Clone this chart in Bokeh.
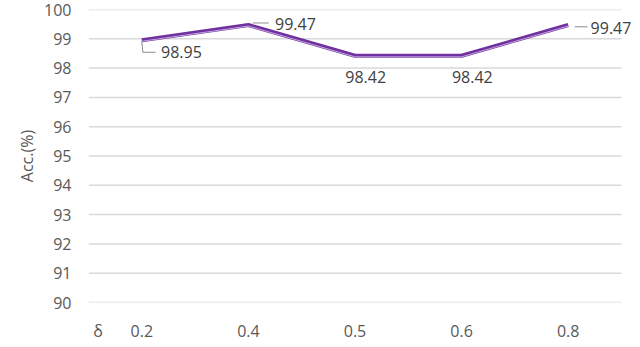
from bokeh.plotting import figure
from bokeh.models import Range1d, FixedTicker, Title
from bokeh.core.properties import value
from bokeh.embed import file_html
from bokeh.resources import INLINE

deltas = ["0.2", "0.4", "0.5", "0.6", "0.8"]
acc = [98.95, 99.47, 98.42, 98.42, 99.47]
y_ticks = [90, 91, 92, 93, 94, 95, 96, 97, 98, 99, 100]
x_title = "δ"
y_title = "Acc.(%)"

FONT = "Open Sans"
idx = list(range(len(deltas)))
n = len(deltas)
# frame extends a bit right of the last category slot so the last label is not clipped
x_end = n - 0.5 + 0.178

p = figure(width=640, height=347, output_backend="svg", toolbar_location=None,
           x_range=Range1d(-0.5, x_end), y_range=Range1d(90, 100),
           min_border_left=88, min_border_right=0, min_border_top=9, min_border_bottom=45)
p.outline_line_color = None
p.background_fill_color = "white"
p.border_fill_color = "white"

# axes (x title shown as a tick label at the lower left)
title_pos = -0.41
p.xaxis.ticker = FixedTicker(ticks=[title_pos] + idx)
overrides = {i: d for i, d in zip(idx, deltas)}
overrides[title_pos] = x_title
p.xaxis.major_label_overrides = overrides
p.yaxis.ticker = FixedTicker(ticks=y_ticks)
for ax in (p.xaxis[0], p.yaxis[0]):
    ax.axis_line_color = None
    ax.major_tick_line_color = None
    ax.minor_tick_line_color = None
    ax.major_label_text_font = FONT
    ax.major_label_text_font_size = "16px"
    ax.major_label_text_color = "#595959"
p.xaxis.major_label_standoff = 11
p.yaxis.major_label_standoff = 11

p.add_layout(Title(text=y_title, align="center", offset=25, standoff=8,
                   text_font=FONT, text_font_size="16px", text_font_style="normal",
                   text_color="#595959"), "left")

p.xgrid.grid_line_color = None
p.ygrid.grid_line_color = None
# horizontal gridlines spanning only the category area
p.segment(x0=[-0.5] * len(y_ticks), x1=[n - 0.5] * len(y_ticks), y0=y_ticks, y1=y_ticks,
          line_color="#D9D9D9", line_width=1.5)

# line (double-line look)
p.line(idx, acc, line_color="#7030A0", line_width=4)
p.line(idx, [a - 0.035 for a in acc], line_color="#D8C8EA", line_width=0.8)

# data labels with leader lines
lab_col = "#404040"
lead_col = "#8C8C8C"
txt = dict(text_font=value(FONT), text_font_size="16px", text_color=lab_col,
           text_baseline="middle")

# label 0: below-right with elbow leader
p.line([idx[0], idx[0] + 0.01, idx[0] + 0.13], [acc[0] - 0.03, acc[0] - 0.41, acc[0] - 0.41],
       line_color=lead_col, line_width=1)
p.text([idx[0] + 0.18], [acc[0] - 0.41], text=[f"{acc[0]:.2f}"], text_align="left", **txt)

# label 1: right with short leader
p.line([idx[1] + 0.04, idx[1] + 0.19], [acc[1] + 0.07, acc[1] + 0.07],
       line_color=lead_col, line_width=1)
p.text([idx[1] + 0.25], [acc[1] + 0.05], text=[f"{acc[1]:.2f}"], text_align="left", **txt)

# labels 2, 3: below
p.text([idx[2] + 0.1, idx[3] + 0.1], [acc[2] - 0.71, acc[3] - 0.71],
       text=[f"{acc[2]:.2f}", f"{acc[3]:.2f}"], text_align="center", **txt)

# label 4: right with short leader
p.line([idx[4] + 0.06, idx[4] + 0.18], [acc[4] - 0.06, acc[4] - 0.06],
       line_color=lead_col, line_width=1)
p.text([idx[4] + 0.21], [acc[4] - 0.09], text=[f"{acc[4]:.2f}"], text_align="left", **txt)

open("out.html", "w").write(file_html(p, INLINE))
